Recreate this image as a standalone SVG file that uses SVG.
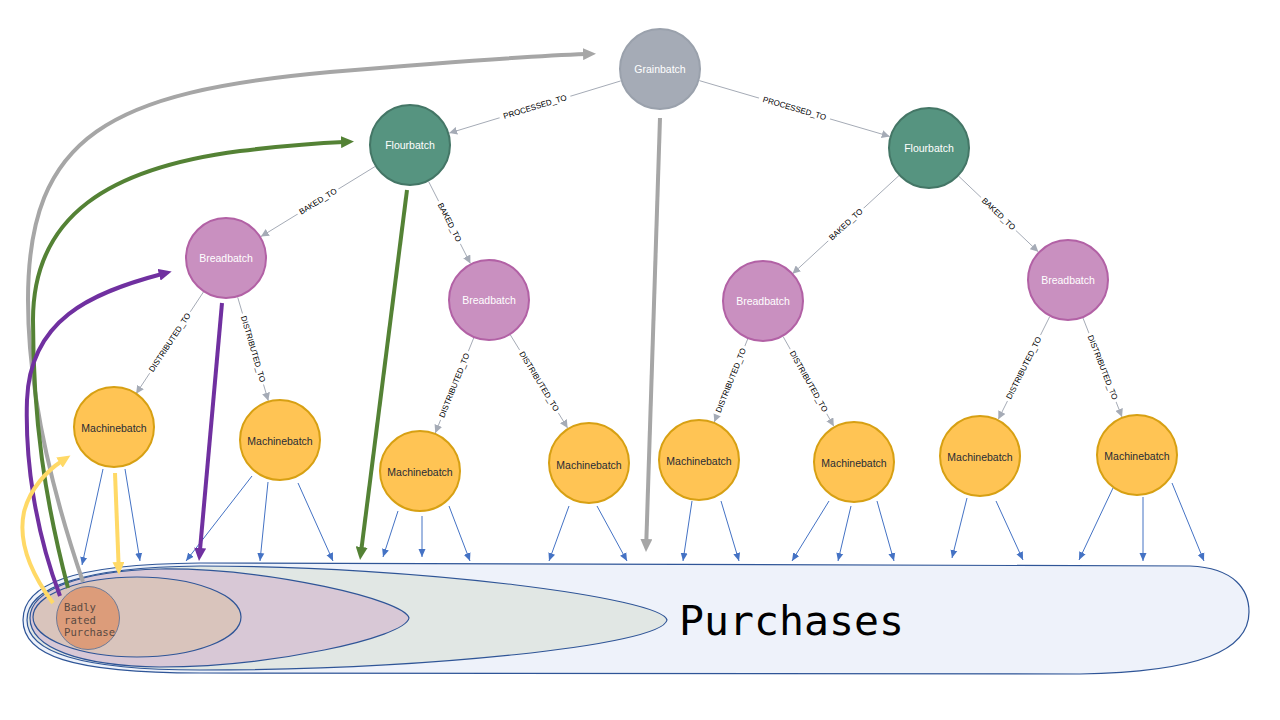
<svg xmlns="http://www.w3.org/2000/svg" width="1280" height="720" viewBox="0 0 1280 720">
<style>
.rel{stroke:#A5ABB6;stroke-width:1;fill:none;marker-end:url(#mRel)}
.rl{font-family:"Liberation Sans",Arial,sans-serif;font-size:8px;fill:#000;text-anchor:middle;dominant-baseline:central}
.lb{fill:#fff}
.blue{stroke:#4472C4;stroke-width:1;fill:none;marker-end:url(#mBlue)}
.tk{stroke-width:4;fill:none}
.nl{font-family:"Liberation Sans",Arial,sans-serif;font-size:10.5px;text-anchor:middle;dominant-baseline:central}
.grain{fill:#A5ABB6;stroke:#9AA1AC;stroke-width:2}
.flour{fill:#569480;stroke:#447666;stroke-width:2}
.bread{fill:#C990C0;stroke:#B261A5;stroke-width:2}
.mach{fill:#FFC454;stroke:#D7A013;stroke-width:2}
.wt{fill:#FFFFFF}
.dk{fill:#2A2C34}
.set{stroke:#2F5597;stroke-width:1.2}
.mono{font-family:"DejaVu Sans Mono","Liberation Mono",monospace}
</style>
<defs>
<marker id="mRel" markerUnits="userSpaceOnUse" viewBox="0 0 8 8" markerWidth="8" markerHeight="8" refX="8" refY="4" orient="auto"><path d="M0,0 L8,4 L0,8 Z" fill="#A5ABB6"/></marker>
<marker id="mBlue" markerUnits="userSpaceOnUse" viewBox="0 0 8 8" markerWidth="8" markerHeight="8" refX="8" refY="4" orient="auto"><path d="M0,0.5 L8,4 L0,7.5 Z" fill="#4472C4"/></marker>
<marker id="mGrey" markerUnits="userSpaceOnUse" viewBox="0 0 14 12" markerWidth="14" markerHeight="12" refX="3" refY="6" orient="auto"><path d="M0,0 L13,6 L0,12 Z" fill="#A6A6A6"/></marker>
<marker id="mGreen" markerUnits="userSpaceOnUse" viewBox="0 0 14 12" markerWidth="14" markerHeight="12" refX="3" refY="6" orient="auto"><path d="M0,0 L13,6 L0,12 Z" fill="#548235"/></marker>
<marker id="mPurple" markerUnits="userSpaceOnUse" viewBox="0 0 14 12" markerWidth="14" markerHeight="12" refX="3" refY="6" orient="auto"><path d="M0,0 L13,6 L0,12 Z" fill="#7030A0"/></marker>
<marker id="mYellow" markerUnits="userSpaceOnUse" viewBox="0 0 14 12" markerWidth="14" markerHeight="12" refX="3" refY="6" orient="auto"><path d="M0,0 L13,6 L0,12 Z" fill="#FFD966"/></marker>
</defs>
<rect width="1280" height="720" fill="#FFFFFF"/>

<g id="purchases">
<path class="set" fill="#EEF2FA" d="M23,620 C23,585 70,564 200,563 L1190,566 C1235,568 1249,590 1249,612 C1249,650 1200,672 1080,674 L200,673 C70,673 23,655 23,620 Z"/>
<path class="set" fill="#E1E7E4" d="M27,620 C27,588 80,567 200,566 C420,566 662,598 667,620 C662,646 420,670 200,670 C80,670 27,652 27,620 Z"/>
<path class="set" fill="#D8C8D6" d="M30,618 C30,590 80,571 160,569 C270,568 405,600 409,618 C405,638 270,667 160,667 C80,666 30,648 30,618 Z"/>
<ellipse class="set" fill="#D9C4BC" cx="137" cy="617" rx="104" ry="40"/>
<text class="mono" x="679" y="635" font-size="41.5" fill="#000000">Purchases</text>
</g>

<g id="connectors">
<line class="rel" x1="620.8" y1="80.9" x2="449.2" y2="133.1"/>
<line class="rel" x1="699.3" y1="80.6" x2="889.7" y2="136.4"/>
<line class="rel" x1="375.1" y1="166.5" x2="260.9" y2="236.6"/>
<line class="rel" x1="428.6" y1="181.5" x2="470.4" y2="263.5"/>
<line class="rel" x1="899.5" y1="175.1" x2="792.5" y2="273.8"/>
<line class="rel" x1="958.7" y1="176.2" x2="1038.3" y2="251.8"/>
<line class="rel" x1="203.9" y1="291.3" x2="136.1" y2="393.7"/>
<line class="rel" x1="237.7" y1="297.3" x2="268.3" y2="400.7"/>
<line class="rel" x1="473.7" y1="338" x2="435.3" y2="433"/>
<line class="rel" x1="510.4" y1="335" x2="567.6" y2="428"/>
<line class="rel" x1="747.7" y1="339" x2="714.3" y2="422"/>
<line class="rel" x1="783.2" y1="336.7" x2="833.8" y2="426.3"/>
<line class="rel" x1="1049.7" y1="316.7" x2="998.3" y2="419.3"/>
<line class="rel" x1="1083" y1="318.1" x2="1122" y2="416.9"/>

<g transform="translate(535,107) rotate(-16.9)"><rect class="lb" x="-37" y="-5" width="74" height="10"/><text class="rl">PROCESSED_TO</text></g>
<g transform="translate(794.5,108.5) rotate(16.4)"><rect class="lb" x="-37" y="-5" width="74" height="10"/><text class="rl">PROCESSED_TO</text></g>
<g transform="translate(318,201.5) rotate(-31.6)"><rect class="lb" x="-24" y="-5" width="48" height="10"/><text class="rl">BAKED_TO</text></g>
<g transform="translate(449.5,222.5) rotate(63)"><rect class="lb" x="-24" y="-5" width="48" height="10"/><text class="rl">BAKED_TO</text></g>
<g transform="translate(846,224.5) rotate(-42.7)"><rect class="lb" x="-24" y="-5" width="48" height="10"/><text class="rl">BAKED_TO</text></g>
<g transform="translate(998.5,214) rotate(43.5)"><rect class="lb" x="-24" y="-5" width="48" height="10"/><text class="rl">BAKED_TO</text></g>
<g transform="translate(170,342.5) rotate(-56.5)"><rect class="lb" x="-37" y="-5" width="74" height="10"/><text class="rl">DISTRIBUTED_TO</text></g>
<g transform="translate(253,349) rotate(73.5)"><rect class="lb" x="-37" y="-5" width="74" height="10"/><text class="rl">DISTRIBUTED_TO</text></g>
<g transform="translate(454.5,385.5) rotate(-68)"><rect class="lb" x="-37" y="-5" width="74" height="10"/><text class="rl">DISTRIBUTED_TO</text></g>
<g transform="translate(539,381.5) rotate(58.5)"><rect class="lb" x="-37" y="-5" width="74" height="10"/><text class="rl">DISTRIBUTED_TO</text></g>
<g transform="translate(731,380.5) rotate(-68.1)"><rect class="lb" x="-37" y="-5" width="74" height="10"/><text class="rl">DISTRIBUTED_TO</text></g>
<g transform="translate(808.5,381.5) rotate(60.5)"><rect class="lb" x="-37" y="-5" width="74" height="10"/><text class="rl">DISTRIBUTED_TO</text></g>
<g transform="translate(1024,368) rotate(-63.4)"><rect class="lb" x="-37" y="-5" width="74" height="10"/><text class="rl">DISTRIBUTED_TO</text></g>
<g transform="translate(1102.5,367.5) rotate(68.5)"><rect class="lb" x="-37" y="-5" width="74" height="10"/><text class="rl">DISTRIBUTED_TO</text></g>

<line class="blue" x1="103" y1="469" x2="82" y2="565"/>
<line class="blue" x1="125" y1="469" x2="140" y2="561"/>
<line class="blue" x1="252" y1="476" x2="186" y2="561"/>
<line class="blue" x1="268" y1="482" x2="260" y2="561"/>
<line class="blue" x1="298" y1="483" x2="333" y2="561"/>
<line class="blue" x1="398" y1="511" x2="383" y2="557"/>
<line class="blue" x1="422" y1="516" x2="422" y2="557"/>
<line class="blue" x1="449" y1="506" x2="470" y2="561"/>
<line class="blue" x1="569" y1="506" x2="549" y2="561"/>
<line class="blue" x1="597" y1="506" x2="627" y2="561"/>
<line class="blue" x1="692" y1="501" x2="683" y2="561"/>
<line class="blue" x1="721" y1="501" x2="739" y2="561"/>
<line class="blue" x1="829" y1="501" x2="792" y2="561"/>
<line class="blue" x1="851" y1="506" x2="838" y2="561"/>
<line class="blue" x1="877" y1="501" x2="894" y2="561"/>
<line class="blue" x1="967" y1="498" x2="952" y2="558"/>
<line class="blue" x1="996" y1="501" x2="1023" y2="560"/>
<line class="blue" x1="1113" y1="488" x2="1079" y2="560"/>
<line class="blue" x1="1143" y1="497" x2="1143" y2="561"/>
<line class="blue" x1="1172" y1="483" x2="1204" y2="561"/>

<path class="tk" stroke="#A6A6A6" marker-end="url(#mGrey)" d="M83,582 C55,500 28,400 28,300 C28,135 110,92 330,72 C450,62 530,56 586,54"/>
<path class="tk" stroke="#548235" marker-end="url(#mGreen)" d="M68,588 C45,500 33,420 33,320 C33,215 110,168 240,151 C290,145 320,143 344,142"/>
<path class="tk" stroke="#7030A0" marker-end="url(#mPurple)" d="M60,596 C35,530 25,460 27,400 C30,320 90,293 162,274"/>
<path class="tk" stroke="#FFD966" marker-end="url(#mYellow)" d="M53,603 C30,572 18,540 24,512 C30,488 48,470 62,461"/>
<path class="tk" stroke="#A6A6A6" marker-end="url(#mGrey)" d="M660,118 L646.3,542"/>
<path class="tk" stroke="#548235" marker-end="url(#mGreen)" d="M407,190 L361.3,550"/>
<path class="tk" stroke="#7030A0" marker-end="url(#mPurple)" d="M222,303 L199.9,551"/>
<path class="tk" stroke="#FFD966" marker-end="url(#mYellow)" d="M115,473 L118.6,565"/>
</g>

<g id="nodes">
<g id="grainbatch"><circle class="grain" cx="660" cy="69" r="40"/><text class="nl wt" x="660" y="69">Grainbatch</text></g>
<g id="flourbatch1"><circle class="flour" cx="410" cy="145" r="40"/><text class="nl wt" x="410" y="145">Flourbatch</text></g>
<g id="flourbatch2"><circle class="flour" cx="929" cy="148" r="40"/><text class="nl wt" x="929" y="148">Flourbatch</text></g>
<g id="breadbatch1"><circle class="bread" cx="226" cy="258" r="40"/><text class="nl wt" x="226" y="258">Breadbatch</text></g>
<g id="breadbatch2"><circle class="bread" cx="489" cy="300" r="40"/><text class="nl wt" x="489" y="300">Breadbatch</text></g>
<g id="breadbatch3"><circle class="bread" cx="763" cy="301" r="40"/><text class="nl wt" x="763" y="301">Breadbatch</text></g>
<g id="breadbatch4"><circle class="bread" cx="1068" cy="280" r="40"/><text class="nl wt" x="1068" y="280">Breadbatch</text></g>
<g id="machinebatch1"><circle class="mach" cx="114" cy="427" r="40"/><text class="nl dk" x="114" y="428">Machinebatch</text></g>
<g id="machinebatch2"><circle class="mach" cx="280" cy="440" r="40"/><text class="nl dk" x="280" y="441">Machinebatch</text></g>
<g id="machinebatch3"><circle class="mach" cx="420" cy="471" r="40"/><text class="nl dk" x="420" y="472">Machinebatch</text></g>
<g id="machinebatch4"><circle class="mach" cx="589" cy="463" r="40"/><text class="nl dk" x="589" y="465">Machinebatch</text></g>
<g id="machinebatch5"><circle class="mach" cx="699" cy="460" r="40"/><text class="nl dk" x="699" y="461">Machinebatch</text></g>
<g id="machinebatch6"><circle class="mach" cx="854" cy="462" r="40"/><text class="nl dk" x="854" y="463">Machinebatch</text></g>
<g id="machinebatch7"><circle class="mach" cx="980" cy="456" r="40"/><text class="nl dk" x="980" y="457">Machinebatch</text></g>
<g id="machinebatch8"><circle class="mach" cx="1137" cy="455" r="40"/><text class="nl dk" x="1137" y="456">Machinebatch</text></g>
<g id="badly-rated-purchase"><circle cx="88" cy="618" r="31.5" fill="#DC9C7A" stroke="#6E7A96" stroke-width="1"/><text class="mono" font-size="10.6" fill="#5A4A42"><tspan x="64" y="611">Badly</tspan><tspan x="64" y="623.5">rated</tspan><tspan x="64" y="636">Purchase</tspan></text></g>
</g>
</svg>
